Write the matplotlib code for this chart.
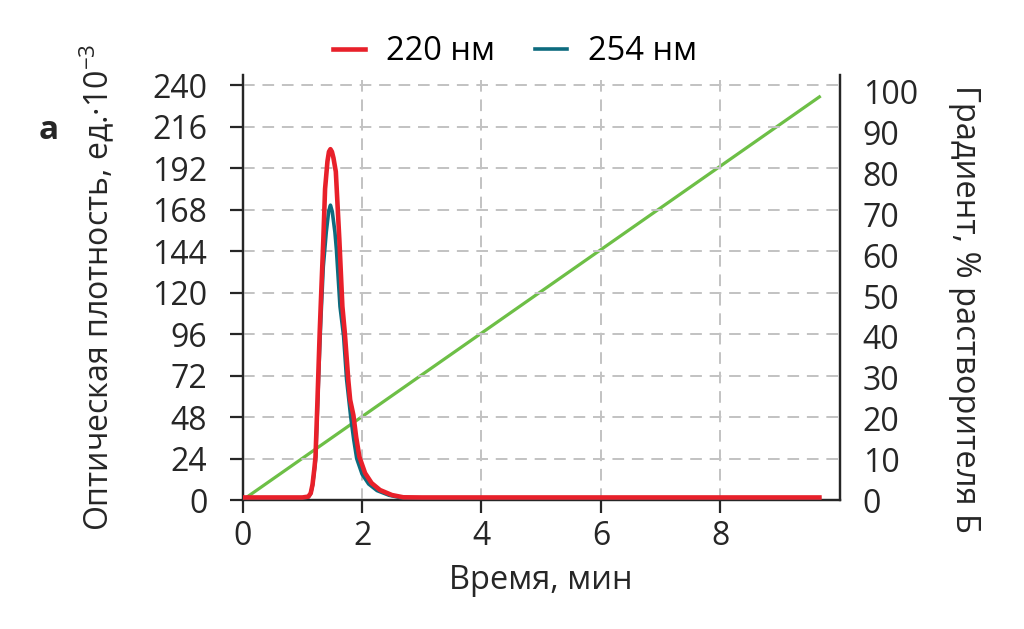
import matplotlib
matplotlib.use("Agg")
import matplotlib.pyplot as plt

plt.rcParams['font.family'] = ['Open Sans', 'DejaVu Sans']
plt.rcParams['mathtext.fontset'] = 'custom'
plt.rcParams['mathtext.rm'] = 'Open Sans'
plt.rcParams['mathtext.it'] = 'Open Sans'

# 220 nm trace (time, min / absorbance, units*10^-3)
t_220 = [0.0, 1.0, 1.10, 1.14, 1.17, 1.20, 1.22, 1.25, 1.29, 1.31, 1.35, 1.38, 1.42,
         1.445, 1.47, 1.495, 1.52, 1.56, 1.62, 1.67, 1.71, 1.77, 1.80, 1.855, 1.90,
         1.955, 2.05, 2.16, 2.30, 2.50, 2.69, 3.0, 5.0, 8.0, 9.66]
a_220 = [1.5, 1.5, 2.0, 4.0, 9.0, 18, 25, 55, 97, 115, 150, 180, 196,
         201.5, 203, 201.5, 198, 190, 150, 112, 97, 69, 58, 49, 36.6,
         25, 15.6, 9.8, 5.8, 2.9, 1.6, 1.5, 1.5, 1.5, 1.5]

# 254 nm trace
t_254 = [0.0, 1.0, 1.10, 1.14, 1.17, 1.20, 1.22, 1.25, 1.29, 1.31, 1.35, 1.40, 1.44,
         1.47, 1.50, 1.545, 1.57, 1.63, 1.69, 1.74, 1.81, 1.86, 1.91, 2.00, 2.11,
         2.25, 2.45, 2.64, 3.0, 5.0, 8.0, 9.66]
a_254 = [1.2, 1.2, 1.7, 3.8, 8.5, 17, 23, 50, 88, 105, 135, 155, 167,
         170.6, 167, 155, 145, 112, 95, 70, 48, 35, 24, 15, 9.3,
         5.5, 2.8, 1.4, 1.2, 1.2, 1.2, 1.2]

# gradient, % solvent B
t_grad = [0.0, 9.66]
b_grad = [0.0, 98.8]

left_ticks = [0, 24, 48, 72, 96, 120, 144, 168, 192, 216, 240]
right_ticks = [0, 10, 20, 30, 40, 50, 60, 70, 80, 90, 100]
x_ticks = [0, 2, 4, 6, 8]

red = '#e8202a'
teal = '#0d6b7e'
green = '#6dbf46'
ink = '#262626'

fig = plt.figure(figsize=(10.24, 6.29), dpi=100)
ax = fig.add_axes([0.237, 0.205, 0.583, 0.676])
ax2 = ax.twinx()

ax2.plot(t_grad, b_grad, color=green, lw=2.3, zorder=1)
l1, = ax.plot(t_220, a_220, color=red, lw=3.3, zorder=4, label='220 нм',
              solid_joinstyle='round')
l2, = ax.plot(t_254, a_254, color=teal, lw=2.6, zorder=3, label='254 нм',
              solid_joinstyle='round')
# curves above the gradient line
ax.set_zorder(ax2.get_zorder() + 1)
ax.patch.set_visible(False)

ax.set_xlim(0, 10)
ax.set_ylim(0, 246)
ax2.set_ylim(0, 104.2)

ax.set_xticks(x_ticks)
ax.set_yticks(left_ticks)
ax2.set_yticks(right_ticks)

ax.grid(True, color='#c2c2c2', linestyle=(0, (6, 4)), lw=1.4)
ax.set_axisbelow(True)

for a in (ax, ax2):
    a.spines['top'].set_visible(False)
    for s in ('left', 'right', 'bottom'):
        a.spines[s].set_linewidth(1.6)
        a.spines[s].set_color(ink)

ax.tick_params(axis='both', labelsize=23, colors=ink, width=1.6, length=9.5, direction='out')
ax.tick_params(axis='y', pad=16)
ax.tick_params(axis='x', pad=5)
ax2.tick_params(axis='y', labelsize=23, colors=ink, length=0, pad=16.5)

ax.set_xlabel('Время, мин', fontsize=23.5, color=ink)
ax.xaxis.set_label_coords(0.5, -0.150)
ax.set_ylabel('Оптическая плотность, ед.·10$^{-3}$', fontsize=23, color=ink)
ax.yaxis.set_label_coords(-0.212, 0.5)
ax2.set_ylabel('Градиент, % растворителя Б', fontsize=23.5, color=ink, rotation=-90)
ax2.yaxis.set_label_coords(1.236, 0.45)

fig.legend(handles=[l1, l2], loc='center', bbox_to_anchor=(0.503, 0.918), ncol=2,
           frameon=False, fontsize=23.5, handlelength=1.0, handletextpad=0.65,
           columnspacing=1.2)

fig.text(0.048, 0.792, 'а', fontsize=24, fontweight='bold', color=ink, ha='center', va='center')

fig.savefig('out.png', dpi=100)
